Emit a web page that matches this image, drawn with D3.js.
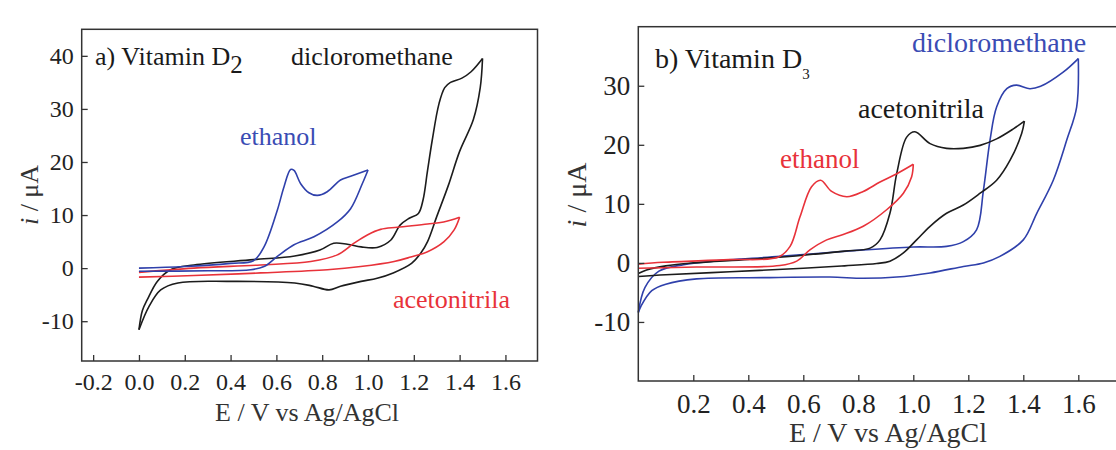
<!DOCTYPE html>
<html>
<head>
<meta charset="utf-8">
<script src="https://cdn.jsdelivr.net/npm/d3@7"></script>
<style>
  html, body { margin: 0; padding: 0; background: #ffffff; }
  svg { display: block; }
  text { font-family: "Liberation Serif", "Times New Roman", serif; }
</style>
</head>
<body>
<svg id="chart" width="1116" height="450"></svg>
<script>
// ---- Cyclic voltammograms, vitamin D2 (panel a) ----
// each scan is split into the forward (anodic) and reverse sweep: [E (V), i (µA)]
const d2EthanolFwd = [[0.0,0.0],[0.2,0.3],[0.4,0.9],[0.5,1.4],[0.546,4.0],[0.604,10.9],[0.633,15.3],[0.662,18.6],[0.677,18.4],[0.706,15.9],[0.742,14.2],[0.779,13.7],[0.822,14.4],[0.88,16.6],[0.924,17.3],[1.0,18.5]];
const d2EthanolRev = [[1.0,18.5],[0.975,15.9],[0.924,11.2],[0.866,8.7],[0.764,5.9],[0.677,4.4],[0.604,2.2],[0.546,0.3],[0.488,-0.3],[0.3,-0.5],[0.0,-0.6]];
const d2DcmFwd = [[0.0,-11.6],[0.015,-8.0],[0.037,-5.9],[0.08,-2.5],[0.138,-0.3],[0.24,0.6],[0.5,1.6],[0.68,2.3],[0.79,3.4],[0.85,4.7],[0.91,4.5],[0.97,4.0],[1.04,3.9],[1.10,5.3],[1.14,8.1],[1.18,9.4],[1.22,10.3],[1.24,12.8],[1.26,18.4],[1.28,24],[1.31,31],[1.335,34],[1.36,35],[1.41,35.8],[1.45,37],[1.5,39.5]];
const d2DcmRev = [[1.5,39.5],[1.49,34],[1.46,28],[1.40,22],[1.35,15.5],[1.30,9.7],[1.26,5],[1.23,2.8],[1.19,0.9],[1.11,-0.9],[1.04,-1.9],[0.97,-2.5],[0.88,-3.4],[0.83,-4.1],[0.76,-3.4],[0.68,-2.8],[0.39,-2.5],[0.17,-2.8],[0.095,-4.1],[0.044,-7.2],[0.0,-11.6]];
const d2AcnFwd = [[0.0,-0.8],[0.24,0.0],[0.53,0.6],[0.75,1.25],[0.866,2.5],[0.939,4.7],[0.997,6.25],[1.055,7.3],[1.128,7.7],[1.26,8.3],[1.33,8.7],[1.4,9.6]];
const d2AcnRev = [[1.4,9.6],[1.376,7.2],[1.332,5.0],[1.26,3.1],[1.187,2.1],[1.114,1.25],[0.968,0.3],[0.823,-0.3],[0.531,-0.9],[0.24,-1.4],[0.0,-1.7]];

// ---- Cyclic voltammograms, vitamin D3 (panel b) ----
const d3EthanolFwd = [[0.0,-0.2],[0.09,0.1],[0.33,0.55],[0.51,1.0],[0.552,2.8],[0.588,7.8],[0.63,12.9],[0.663,14.0],[0.703,12.1],[0.758,11.2],[0.818,12.1],[0.879,13.7],[0.94,15.1],[1.0,16.7]];
const d3EthanolRev = [[1.0,16.7],[0.994,14.6],[0.964,11.8],[0.903,9.0],[0.818,6.2],[0.745,4.8],[0.685,3.9],[0.624,2.2],[0.576,0.3],[0.515,-0.45],[0.212,-0.7],[0.0,-0.9]];
const d3AcnFwd = [[0.0,-1.8],[0.03,-1.2],[0.1,-0.5],[0.2,0.0],[0.4,0.6],[0.6,1.3],[0.75,2.0],[0.843,2.5],[0.879,3.9],[0.915,8.4],[0.94,15.2],[0.976,21.3],[1.006,22.2],[1.061,20.2],[1.121,19.4],[1.182,19.4],[1.243,19.9],[1.303,21.0],[1.364,22.7],[1.404,24.0]];
const d3AcnRev = [[1.404,24.0],[1.394,21.9],[1.352,17.4],[1.303,14.0],[1.243,11.8],[1.182,9.8],[1.121,8.4],[1.061,6.2],[1.012,3.9],[0.964,1.7],[0.915,0.3],[0.867,-0.1],[0.75,-0.5],[0.6,-0.9],[0.333,-1.5],[0.1,-2.0],[0.0,-2.3]];
const d3DcmFwd = [[0.0,-8.4],[0.024,-4.2],[0.075,-1.4],[0.165,-0.3],[0.273,0.3],[0.515,1.1],[0.818,2.2],[1.0,2.7],[1.121,2.8],[1.182,3.6],[1.23,5.6],[1.255,12.3],[1.279,20.8],[1.303,26.4],[1.34,29.5],[1.375,30.1],[1.424,29.5],[1.463,29.9],[1.545,32.3],[1.6,34.6]];
const d3DcmRev = [[1.6,34.6],[1.594,26.4],[1.558,20.8],[1.509,14.0],[1.449,8.4],[1.40,3.9],[1.315,1.1],[1.255,0.0],[1.182,-0.6],[1.061,-1.7],[0.94,-2.4],[0.818,-2.6],[0.697,-2.4],[0.455,-2.5],[0.212,-2.7],[0.1,-3.6],[0.049,-4.7],[0.01,-7.3],[0.0,-8.4]];

// tick values
const d2ETicks = [-0.2, 0.0, 0.2, 0.4, 0.6, 0.8, 1.0, 1.2, 1.4, 1.6];
const d2ITicks = [-10, 0, 10, 20, 30, 40];
const d3ETicks = [0.2, 0.4, 0.6, 0.8, 1.0, 1.2, 1.4, 1.6];
const d3ITicks = [-10, 0, 10, 20, 30];

const BLACK = "#1c1c1c", BLUE = "#2f40ab", RED = "#e8323a";
const svg = d3.select("#chart");

function drawPanel(o) {
  const x = d3.scaleLinear().domain(o.eDomain).range([o.left, o.right]);
  const y = d3.scaleLinear().domain(o.iDomain).range([o.bottom, o.top]);
  const g = svg.append("g");

  // curves
  const line = d3.line().x(d => x(d[0])).y(d => y(d[1])).curve(d3.curveCatmullRom.alpha(0.5));
  o.series.forEach(s => {
    g.append("path").datum(s.data).attr("d", line)
      .attr("fill", "none").attr("stroke", s.color).attr("stroke-width", 1.6)
      .attr("stroke-linejoin", "round");
  });

  // frame
  g.append("rect").attr("x", x.range()[0]).attr("y", o.top)
    .attr("width", x.range()[1] - x.range()[0]).attr("height", o.bottom - o.top)
    .attr("fill", "none").attr("stroke", "#333").attr("stroke-width", 1.5);

  // axes with inward ticks
  const ax = g.append("g").attr("transform", `translate(0,${o.bottom})`)
    .call(d3.axisBottom(x).tickValues(o.eTicks).tickFormat(d => d.toFixed(1))
      .tickSize(-6).tickPadding(o.xPad));
  const ay = g.append("g").attr("transform", `translate(${x.range()[0]},0)`)
    .call(d3.axisLeft(y).tickValues(o.iTicks).tickFormat(d => String(d))
      .tickSize(-6).tickPadding(o.yPad));
  [ax, ay].forEach(a => {
    a.select(".domain").remove();
    a.selectAll(".tick line").attr("stroke", "#333").attr("stroke-width", 1.3);
    a.selectAll(".tick text").attr("fill", "#222").attr("font-size", o.tickFont)
      .attr("font-family", "Liberation Serif, serif");
  });

  // axis titles
  g.append("text").attr("x", o.xTitle[0]).attr("y", o.xTitle[1])
    .attr("text-anchor", "middle").attr("font-size", o.titleFont).attr("fill", "#333")
    .text("E / V vs Ag/AgCl");
  const yt = g.append("text")
    .attr("transform", `translate(${o.yTitle[0]},${o.yTitle[1]}) rotate(-90)`)
    .attr("text-anchor", "middle").attr("font-size", o.titleFont).attr("fill", "#333");
  yt.append("tspan").attr("font-style", "italic").text("i");
  yt.append("tspan").text(" / μA");

  // panel heading with subscript
  const h = g.append("text").attr("x", o.head.x).attr("y", o.head.y)
    .attr("font-size", o.labelFont).attr("fill", "#1a1a1a");
  h.append("tspan").text(o.head.text);
  h.append("tspan").attr("font-size", o.head.subSize).attr("dy", o.head.subDy).text(o.head.sub);

  // solvent labels
  o.labels.forEach(l => {
    g.append("text").attr("x", l.x).attr("y", l.y).attr("font-size", l.size || o.labelFont)
      .attr("fill", l.color).text(l.text);
  });
}

drawPanel({
  eDomain: [-0.25, 1.74], iDomain: [-17.5, 45],
  left: 81.7, right: 537.5, top: 29.3, bottom: 361,
  eTicks: d2ETicks, iTicks: d2ITicks, xPad: 12, yPad: 8,
  tickFont: 24, titleFont: 26, labelFont: 26,
  xTitle: [307, 421], yTitle: [38, 195],
  head: { x: 95, y: 65, text: "a) Vitamin D", sub: "2", subSize: 25, subDy: 8 },
  series: [
    { data: d2DcmFwd, color: BLACK }, { data: d2DcmRev, color: BLACK },
    { data: d2AcnFwd, color: RED }, { data: d2AcnRev, color: RED },
    { data: d2EthanolFwd, color: BLUE }, { data: d2EthanolRev, color: BLUE }
  ],
  labels: [
    { text: "dicloromethane", x: 291, y: 65, color: "#1a1a1a" },
    { text: "ethanol", x: 240, y: 145, color: "#3a4cb4" },
    { text: "acetonitrila", x: 393, y: 308, color: "#e8323a" }
  ]
});

drawPanel({
  eDomain: [0, 1.8], iDomain: [-20, 40],
  left: 638.3, right: 1133.3, top: 26.7, bottom: 381,
  eTicks: d3ETicks, iTicks: d3ITicks, xPad: 13, yPad: 8,
  tickFont: 27, titleFont: 28, labelFont: 28,
  xTitle: [888, 442], yTitle: [586, 195],
  head: { x: 655, y: 68, text: "b) Vitamin D", sub: "3", subSize: 15, subDy: 11 },
  series: [
    { data: d3DcmFwd, color: BLUE }, { data: d3DcmRev, color: BLUE },
    { data: d3AcnFwd, color: BLACK }, { data: d3AcnRev, color: BLACK },
    { data: d3EthanolFwd, color: RED }, { data: d3EthanolRev, color: RED }
  ],
  labels: [
    { text: "dicloromethane", x: 912, y: 52, color: "#3a4cb4" },
    { text: "acetonitrila", x: 858, y: 118, color: "#1a1a1a" },
    { text: "ethanol", x: 780, y: 168, color: "#e8323a", size: 27 }
  ]
});
</script>
</body>
</html>
